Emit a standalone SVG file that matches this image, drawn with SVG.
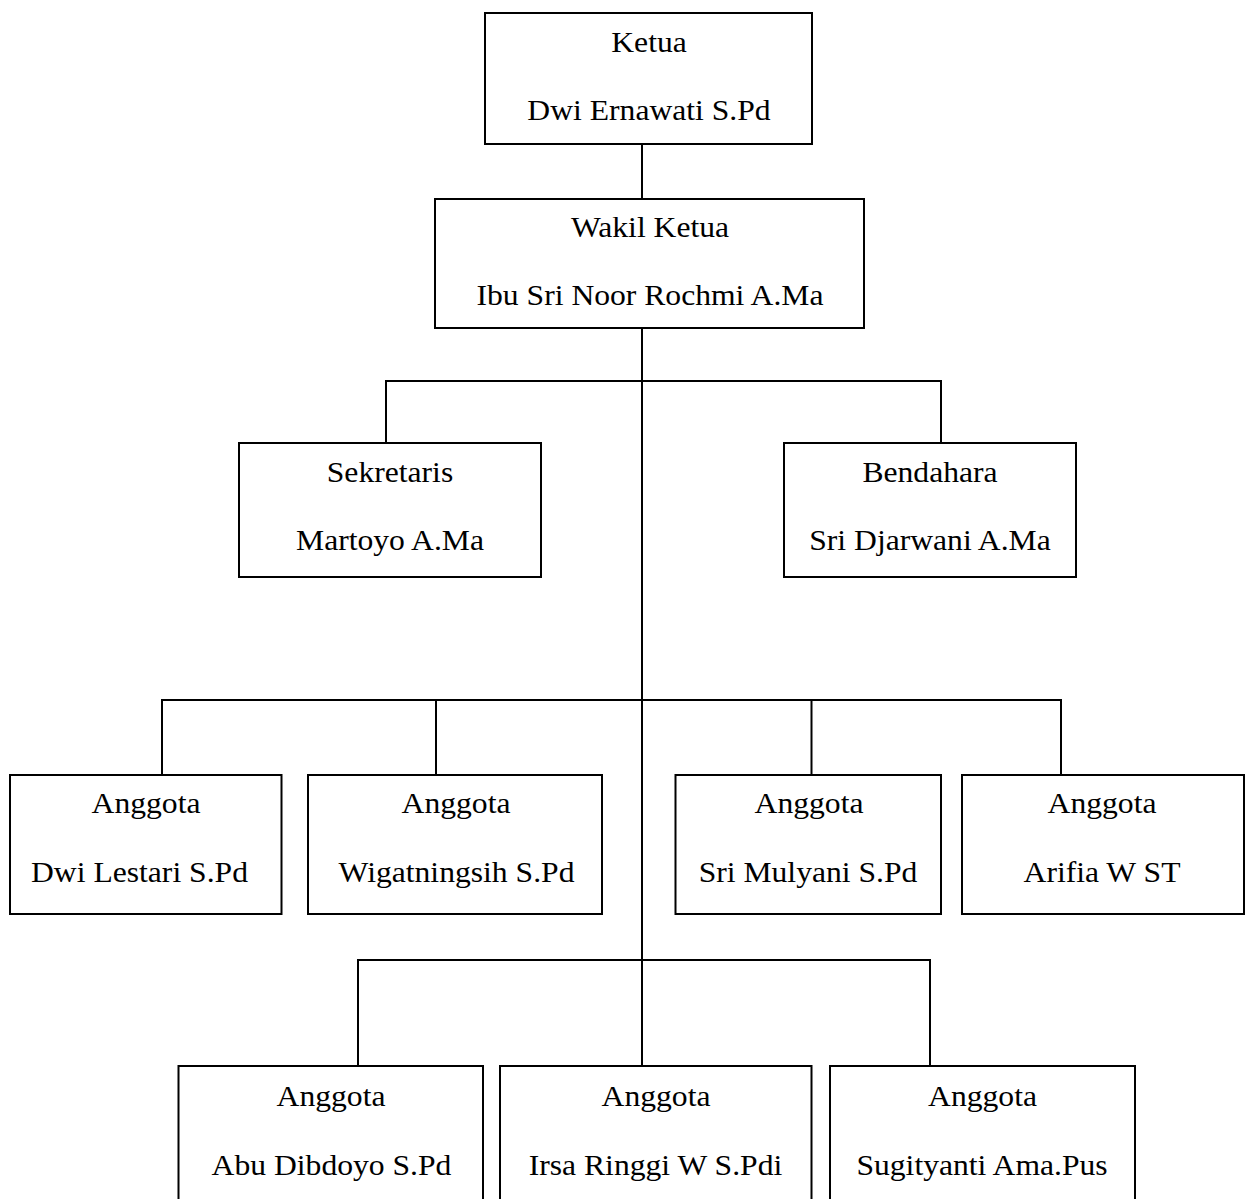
<svg xmlns="http://www.w3.org/2000/svg" width="1248" height="1199" viewBox="0 0 1248 1199">
<style>
.box{fill:#fff;stroke:#000;stroke-width:2}
.ln{fill:none;stroke:#000;stroke-width:2}
.t{font-family:"Liberation Serif","Times New Roman",serif;font-size:28.5px;fill:#000;text-anchor:middle}
</style>
<rect width="1248" height="1199" fill="#fff"/>
<g id="connectors">
<line class="ln" x1="642" y1="144" x2="642" y2="199"/>
<line class="ln" x1="642" y1="328" x2="642" y2="1066"/>
<line class="ln" x1="386" y1="381" x2="941" y2="381"/>
<line class="ln" x1="386" y1="380" x2="386" y2="443"/>
<line class="ln" x1="941" y1="380" x2="941" y2="443"/>
<line class="ln" x1="162" y1="700" x2="1061" y2="700"/>
<line class="ln" x1="162" y1="699" x2="162" y2="775"/>
<line class="ln" x1="436" y1="700" x2="436" y2="775"/>
<line class="ln" x1="811.5" y1="700" x2="811.5" y2="775"/>
<line class="ln" x1="1061" y1="699" x2="1061" y2="775"/>
<line class="ln" x1="358" y1="960" x2="930" y2="960"/>
<line class="ln" x1="358" y1="959" x2="358" y2="1066"/>
<line class="ln" x1="930" y1="959" x2="930" y2="1066"/>
</g>
<g id="ketua">
<rect class="box" x="485" y="13" width="327" height="131"/>
<text class="t" transform="translate(649,52) scale(1.11,1)">Ketua</text>
<text class="t" transform="translate(649,120) scale(1.11,1)">Dwi Ernawati S.Pd</text>
</g>
<g id="wakil">
<rect class="box" x="435" y="199" width="429" height="129"/>
<text class="t" transform="translate(650,237) scale(1.11,1)">Wakil Ketua</text>
<text class="t" transform="translate(650,305) scale(1.11,1)">Ibu Sri Noor Rochmi A.Ma</text>
</g>
<g id="sekretaris">
<rect class="box" x="239" y="443" width="302" height="134"/>
<text class="t" transform="translate(390,482) scale(1.11,1)">Sekretaris</text>
<text class="t" transform="translate(390,550) scale(1.11,1)">Martoyo A.Ma</text>
</g>
<g id="bendahara">
<rect class="box" x="784" y="443" width="292" height="134"/>
<text class="t" transform="translate(930,482) scale(1.11,1)">Bendahara</text>
<text class="t" transform="translate(930,550) scale(1.11,1)">Sri Djarwani A.Ma</text>
</g>
<g id="anggota-dwi">
<rect class="box" x="10" y="775" width="271.5" height="139"/>
<text class="t" transform="translate(146,813) scale(1.11,1)">Anggota</text>
<text class="t" transform="translate(139.5,882) scale(1.11,1)">Dwi Lestari S.Pd</text>
</g>
<g id="anggota-wigatningsih">
<rect class="box" x="308" y="775" width="294" height="139"/>
<text class="t" transform="translate(456,813) scale(1.11,1)">Anggota</text>
<text class="t" transform="translate(456.5,882) scale(1.11,1)">Wigatningsih S.Pd</text>
</g>
<g id="anggota-sri">
<rect class="box" x="675.5" y="775" width="265.5" height="139"/>
<text class="t" transform="translate(809,813) scale(1.11,1)">Anggota</text>
<text class="t" transform="translate(808,882) scale(1.11,1)">Sri Mulyani S.Pd</text>
</g>
<g id="anggota-arifia">
<rect class="box" x="962" y="775" width="282" height="139"/>
<text class="t" transform="translate(1102,813) scale(1.11,1)">Anggota</text>
<text class="t" transform="translate(1102,882) scale(1.11,1)">Arifia W ST</text>
</g>
<g id="anggota-abu">
<rect class="box" x="178.5" y="1066" width="304.5" height="150"/>
<text class="t" transform="translate(331,1106) scale(1.11,1)">Anggota</text>
<text class="t" transform="translate(331.5,1175) scale(1.11,1)">Abu Dibdoyo S.Pd</text>
</g>
<g id="anggota-irsa">
<rect class="box" x="500" y="1066" width="311.5" height="150"/>
<text class="t" transform="translate(656,1106) scale(1.11,1)">Anggota</text>
<text class="t" transform="translate(655.5,1175) scale(1.11,1)">Irsa Ringgi W S.Pdi</text>
</g>
<g id="anggota-sugityanti">
<rect class="box" x="830" y="1066" width="305" height="150"/>
<text class="t" transform="translate(982.5,1106) scale(1.11,1)">Anggota</text>
<text class="t" transform="translate(982,1175) scale(1.11,1)">Sugityanti Ama.Pus</text>
</g>
</svg>
